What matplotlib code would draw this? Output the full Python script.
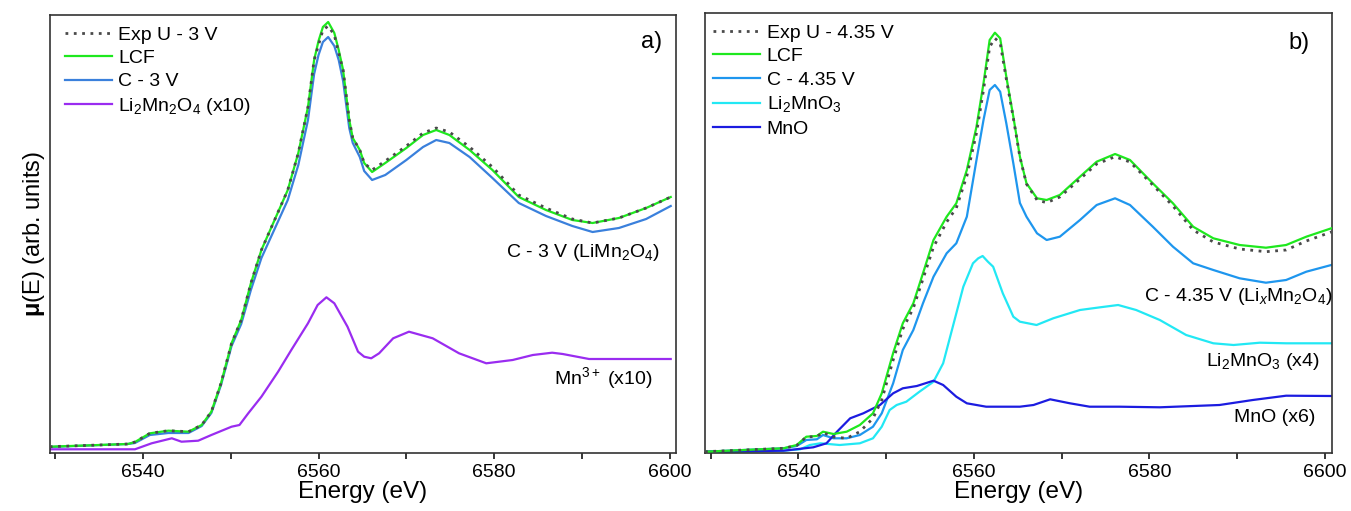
import numpy as np
import matplotlib
matplotlib.use("Agg")
import matplotlib.pyplot as plt
from matplotlib.ticker import MultipleLocator

plt.rcParams['font.family'] = ['Liberation Sans', 'DejaVu Sans']
plt.rcParams['mathtext.fontset'] = 'custom'
plt.rcParams['mathtext.rm'] = 'Liberation Sans'
plt.rcParams['mathtext.it'] = 'Liberation Sans:italic'
plt.rcParams['mathtext.bf'] = 'Liberation Sans:bold'

# ---- panel a) : uncharged 3 V ----
e_a = [6529.4, 6538.3, 6539.1, 6540.8, 6542.9, 6545.2, 6546.7, 6547.8, 6548.9, 6550.1,
       6551.2, 6552.3, 6553.5, 6555.0, 6556.5, 6557.7, 6558.8, 6559.5, 6560.0, 6560.5,
       6561.1, 6561.8, 6562.3, 6562.8, 6563.5, 6563.9, 6564.7, 6565.2, 6566.1, 6567.6,
       6570.0, 6571.9, 6573.4, 6574.9, 6577.2, 6579.8, 6582.8, 6585.9, 6588.9, 6591.2,
       6594.2, 6597.3, 6600.1]
exp_a = [0.063, 0.09, 0.11, 0.197, 0.223, 0.213, 0.28, 0.413, 0.697, 1.097,
         1.33, 1.697, 2.03, 2.33, 2.63, 3.0, 3.46, 3.93, 4.08, 4.23,
         4.27, 4.18, 4.00, 3.83, 3.33, 3.15, 3.03, 2.90, 2.83, 2.92,
         3.07, 3.20, 3.25, 3.21, 3.06, 2.86, 2.58, 2.45, 2.34, 2.30,
         2.35, 2.45, 2.56]
lcf_a = [0.063, 0.09, 0.11, 0.197, 0.223, 0.213, 0.28, 0.413, 0.697, 1.097,
         1.33, 1.697, 2.03, 2.33, 2.63, 3.0, 3.46, 3.93, 4.12, 4.26,
         4.31, 4.20, 4.03, 3.83, 3.33, 3.15, 3.03, 2.90, 2.81, 2.90,
         3.05, 3.18, 3.23, 3.18, 3.03, 2.83, 2.56, 2.43, 2.33, 2.30,
         2.35, 2.45, 2.56]
c3v_a = [0.06, 0.09, 0.10, 0.18, 0.20, 0.20, 0.27, 0.40, 0.68, 1.07,
         1.29, 1.63, 1.95, 2.24, 2.53, 2.88, 3.33, 3.79, 3.98, 4.11,
         4.16, 4.07, 3.93, 3.72, 3.25, 3.10, 2.96, 2.82, 2.73, 2.78,
         2.93, 3.06, 3.13, 3.10, 2.96, 2.75, 2.50, 2.37, 2.27, 2.21,
         2.25, 2.34, 2.47]

e_li2mn2o4 = [6529.4, 6539.1, 6541.0, 6543.3, 6544.4, 6546.3, 6547.8, 6550.1, 6551.0, 6552.0,
              6553.5, 6555.4, 6556.9, 6558.8, 6559.9, 6560.9, 6561.8, 6563.3, 6564.5, 6565.2,
              6566.0, 6566.9, 6568.5, 6570.3, 6573.0, 6576.0, 6579.1, 6582.1, 6584.4, 6586.6,
              6587.8, 6590.8, 6600.1]
li2mn2o4 = [0.037, 0.037, 0.097, 0.147, 0.113, 0.123, 0.18, 0.263, 0.28, 0.397,
            0.563, 0.813, 1.03, 1.297, 1.48, 1.557, 1.497, 1.263, 1.013, 0.963,
            0.947, 0.997, 1.147, 1.213, 1.147, 0.997, 0.897, 0.93, 0.98, 1.003,
            0.99, 0.94, 0.94]

# ---- panel b) : charged 4.35 V ----
e_b = [6529.35, 6538.3, 6539.8, 6540.9, 6542.1, 6542.8, 6544.0, 6545.5, 6547.0, 6548.5,
       6549.5, 6550.8, 6551.9, 6553.1, 6554.2, 6555.4, 6556.9, 6558.0, 6559.2, 6560.3,
       6561.1, 6561.8, 6562.4, 6563.0, 6563.7, 6564.5, 6565.25, 6566.0, 6567.2, 6568.3,
       6569.8, 6572.1, 6574.0, 6576.1, 6577.8, 6580.4, 6582.7, 6585.0, 6587.3, 6590.3,
       6593.3, 6595.6, 6597.9, 6600.75]
exp_b = [0.013, 0.047, 0.075, 0.16, 0.165, 0.205, 0.16, 0.147, 0.213, 0.347,
         0.53, 0.93, 1.24, 1.45, 1.74, 2.06, 2.31, 2.45, 2.77, 3.2,
         3.63, 4.06, 4.147, 4.10, 3.74, 3.35, 2.96, 2.69, 2.53, 2.503,
         2.56, 2.74, 2.89, 2.963, 2.91, 2.68, 2.47, 2.23, 2.11, 2.04,
         2.013, 2.03, 2.12, 2.21]
lcf_b = [0.013, 0.047, 0.08, 0.163, 0.17, 0.213, 0.19, 0.213, 0.28, 0.397,
         0.597, 1.0, 1.297, 1.497, 1.797, 2.13, 2.363, 2.497, 2.83, 3.263,
         3.697, 4.13, 4.203, 4.147, 3.763, 3.363, 2.963, 2.697, 2.547, 2.53,
         2.58, 2.763, 2.913, 2.99, 2.93, 2.697, 2.497, 2.263, 2.147, 2.08,
         2.053, 2.08, 2.163, 2.247]
c435_b = [0.013, 0.047, 0.07, 0.13, 0.137, 0.18, 0.147, 0.147, 0.18, 0.263,
          0.397, 0.697, 1.03, 1.23, 1.497, 1.763, 1.997, 2.097, 2.363, 2.93,
          3.33, 3.63, 3.68, 3.613, 3.297, 2.897, 2.5, 2.363, 2.197, 2.13,
          2.163, 2.33, 2.48, 2.547, 2.48, 2.263, 2.063, 1.897, 1.83, 1.747,
          1.703, 1.73, 1.813, 1.88]

e_li2mno3 = [6529.35, 6538.3, 6540.2, 6541.3, 6542.5, 6544.7, 6547.0, 6548.5, 6549.5, 6550.4,
             6551.2, 6552.3, 6553.8, 6555.4, 6556.5, 6557.6, 6558.8, 6559.9, 6560.5, 6561.0,
             6561.6, 6562.2, 6563.3, 6564.5, 6565.25, 6567.15, 6569.05, 6572.1, 6574.4, 6576.45,
             6578.5, 6581.2, 6584.2, 6587.3, 6589.6, 6592.6, 6595.6, 6600.75]
li2mno3 = [0.003, 0.023, 0.037, 0.08, 0.097, 0.08, 0.097, 0.147, 0.263, 0.43,
           0.48, 0.513, 0.613, 0.713, 0.897, 1.263, 1.663, 1.897, 1.947, 1.97,
           1.913, 1.863, 1.597, 1.363, 1.313, 1.28, 1.347, 1.43, 1.457, 1.48,
           1.43, 1.33, 1.18, 1.097, 1.08, 1.103, 1.097, 1.097]

e_mno = [6529.35, 6538.3, 6541.7, 6543.2, 6544.4, 6545.9, 6547.4, 6549.3, 6550.8, 6551.9,
         6553.5, 6555.4, 6556.5, 6558.0, 6559.2, 6561.4, 6565.25, 6566.8, 6568.7, 6570.95,
         6573.2, 6576.6, 6581.2, 6588.0, 6591.8, 6595.6, 6600.75]
mno = [0.013, 0.023, 0.057, 0.097, 0.213, 0.347, 0.397, 0.48, 0.597, 0.647,
       0.67, 0.723, 0.68, 0.563, 0.497, 0.463, 0.463, 0.48, 0.537, 0.497,
       0.463, 0.463, 0.457, 0.48, 0.53, 0.573, 0.57]

EXP_STYLE = dict(color='#4a4a4a', ls=(0, (1, 2)), lw=2.0)
LW = 1.6

fig = plt.figure(figsize=(13.51, 5.11), dpi=100)
ax1 = fig.add_axes([50 / 1351, 58 / 511, 626 / 1351, 438 / 511])
ax2 = fig.add_axes([705 / 1351, 58 / 511, 627 / 1351, 440 / 511])

ax1.plot(e_a, exp_a, label='Exp U - 3 V', zorder=4, **EXP_STYLE)
ax1.plot(e_a, lcf_a, color='#1ee81e', lw=LW, label='LCF', zorder=3)
ax1.plot(e_a, c3v_a, color='#3a80dc', lw=LW, label='C - 3 V')
ax1.plot(e_li2mn2o4, li2mn2o4, color='#9a2cf0', lw=LW, label=r'Li$_2$Mn$_2$O$_4$ (x10)')
ax1.set_ylim(0, 4.38)
ax1.set_xlim(6529.43, 6600.7)

ax2.plot(e_b, exp_b, label='Exp U - 4.35 V', zorder=4, **EXP_STYLE)
ax2.plot(e_b, lcf_b, color='#1ee81e', lw=LW, label='LCF', zorder=3)
ax2.plot(e_b, c435_b, color='#1e96ee', lw=LW, label='C - 4.35 V')
ax2.plot(e_li2mno3, li2mno3, color='#22e8f4', lw=LW, label=r'Li$_2$MnO$_3$')
ax2.plot(e_mno, mno, color='#1c1ce0', lw=LW, label='MnO')
ax2.set_ylim(0, 4.40)
ax2.set_xlim(6529.35, 6600.83)

for ax, leg_x in ((ax1, 0.024), (ax2, 0.013)):
    ax.xaxis.set_major_locator(MultipleLocator(20))
    ax.xaxis.set_minor_locator(MultipleLocator(10))
    ax.tick_params(axis='x', which='both', direction='out', length=4, width=1.1,
                   labelsize=14, pad=4)
    ax.set_yticks([])
    for sp in ax.spines.values():
        sp.set_linewidth(1.2)
        sp.set_color('#333333')
    ax.set_xlabel('Energy (eV)', fontsize=17.5, labelpad=0)
    ax.legend(loc='upper left', bbox_to_anchor=(leg_x, 0.975), frameon=False,
              fontsize=14, handlelength=2.4, handletextpad=0.35,
              labelspacing=0.3, borderpad=0, borderaxespad=0)

ax1.set_ylabel(r'$\mathbf{\mu}$(E) (arb. units)', fontsize=17, labelpad=2)

ax1.text(0.978, 0.938, 'a)', transform=ax1.transAxes, ha='right', va='center', fontsize=17)
ax1.text(0.974, 0.457, r'C - 3 V (LiMn$_2$O$_4$)', transform=ax1.transAxes,
         ha='right', va='center', fontsize=14)
ax1.text(0.963, 0.171, r'Mn$^{3+}$ (x10)', transform=ax1.transAxes,
         ha='right', va='center', fontsize=14)

ax2.text(0.965, 0.932, 'b)', transform=ax2.transAxes, ha='right', va='center', fontsize=17)
ax2.text(1.0, 0.355, r'C - 4.35 V (Li$_x$Mn$_2$O$_4$)', transform=ax2.transAxes,
         ha='right', va='center', fontsize=14)
ax2.text(0.981, 0.207, r'Li$_2$MnO$_3$ (x4)', transform=ax2.transAxes,
         ha='right', va='center', fontsize=14)
ax2.text(0.973, 0.080, 'MnO (x6)', transform=ax2.transAxes,
         ha='right', va='center', fontsize=14)

fig.savefig('out.png', dpi=100)
